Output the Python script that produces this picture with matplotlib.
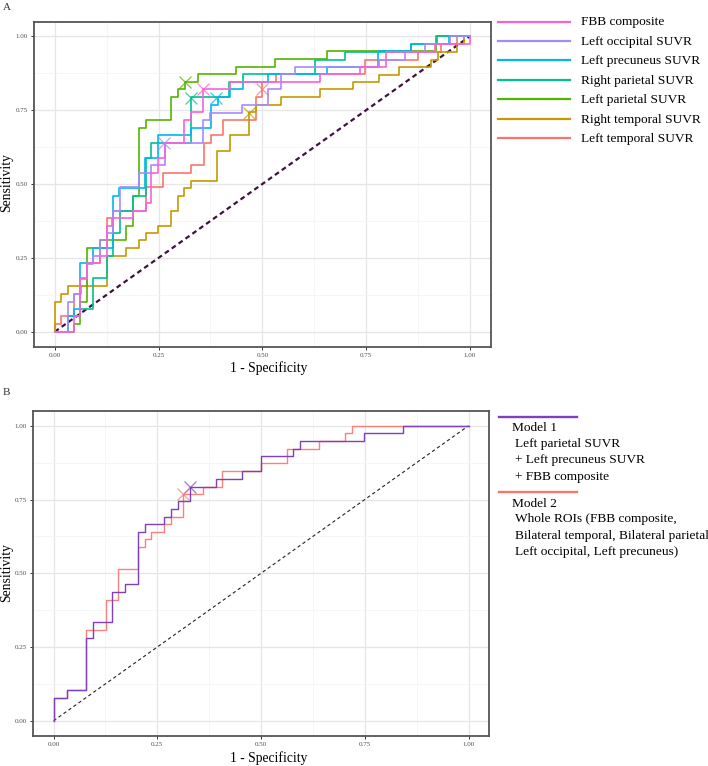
import matplotlib
matplotlib.use('Agg')
import matplotlib.pyplot as plt
from matplotlib.lines import Line2D

plt.rcParams['font.family'] = ['Liberation Serif', 'DejaVu Serif']

# ---------------- data ----------------
tick_values = [0.0, 0.25, 0.5, 0.75, 1.0]
tick_labels = ['0.00', '0.25', '0.50', '0.75', '1.00']
minor_values = [0.125, 0.375, 0.625, 0.875]

names_A = ['FBB composite', 'Left occipital SUVR', 'Left precuneus SUVR',
           'Right parietal SUVR', 'Left parietal SUVR', 'Right temporal SUVR',
           'Left temporal SUVR']
colors_A = ['#FB61D7', '#A58AFF', '#00B6EB', '#00C094', '#53B400', '#C49A00', '#F8766D']

fbb_fpr = [0, 0.046, 0.046, 0.061, 0.061, 0.0785, 0.0785, 0.109, 0.109, 0.125, 0.125, 0.139, 0.139, 0.1875,
           0.1875, 0.219, 0.219, 0.233, 0.233, 0.249, 0.249, 0.265, 0.265, 0.312, 0.312, 0.328, 0.328, 0.357,
           0.357, 0.421, 0.421, 0.638, 0.638, 0.734, 0.734, 0.797, 0.797, 0.917, 0.917, 1.0, 1.0]
fbb_tpr = [0, 0, 0.052, 0.052, 0.181, 0.181, 0.232, 0.232, 0.257, 0.257, 0.358, 0.358, 0.384, 0.384,
           0.41, 0.41, 0.435, 0.435, 0.538, 0.538, 0.587, 0.587, 0.64, 0.64, 0.718, 0.718, 0.744, 0.744,
           0.82, 0.82, 0.846, 0.846, 0.872, 0.872, 0.897, 0.897, 0.947, 0.947, 0.974, 0.974, 1.0]

locc_fpr = [0, 0.031, 0.031, 0.046, 0.046, 0.061, 0.061, 0.077, 0.077, 0.093, 0.093, 0.109, 0.109, 0.125,
            0.125, 0.141, 0.141, 0.157, 0.157, 0.2035, 0.2035, 0.233, 0.233, 0.265, 0.265, 0.357, 0.357,
            0.373, 0.373, 0.452, 0.452, 0.514, 0.514, 0.546, 0.546, 0.578, 0.578, 0.78, 0.78, 0.844, 0.844,
            0.891, 0.891, 0.953, 0.953, 1.0]
locc_tpr = [0, 0, 0.102, 0.102, 0.128, 0.128, 0.18, 0.18, 0.23, 0.23, 0.257, 0.257, 0.309, 0.309, 0.333,
            0.333, 0.41, 0.41, 0.489, 0.489, 0.538, 0.538, 0.564, 0.564, 0.64, 0.64, 0.717, 0.717, 0.742,
            0.742, 0.769, 0.769, 0.82, 0.82, 0.872, 0.872, 0.896, 0.896, 0.921, 0.921, 0.947, 0.947, 0.973,
            0.973, 1.0, 1.0]

lprec_fpr = [0, 0.031, 0.031, 0.046, 0.046, 0.061, 0.061, 0.093, 0.093, 0.141, 0.141, 0.155, 0.155, 0.217,
             0.217, 0.249, 0.249, 0.328, 0.328, 0.376, 0.376, 0.392, 0.392, 0.421, 0.421, 0.453, 0.453,
             0.514, 0.514, 0.656, 0.656, 0.778, 0.778, 0.857, 0.857, 0.95, 0.95, 1.0]
lprec_tpr = [0, 0, 0.052, 0.052, 0.077, 0.077, 0.232, 0.232, 0.283, 0.283, 0.461, 0.461, 0.487, 0.487,
             0.589, 0.589, 0.666, 0.666, 0.691, 0.691, 0.767, 0.767, 0.793, 0.793, 0.82, 0.82, 0.846,
             0.846, 0.872, 0.872, 0.897, 0.897, 0.949, 0.949, 0.974, 0.974, 1.0, 1.0]

rpar_fpr = [0, 0.031, 0.031, 0.061, 0.061, 0.093, 0.093, 0.125, 0.125, 0.141, 0.141, 0.157, 0.157, 0.1875,
            0.1875, 0.219, 0.219, 0.233, 0.233, 0.328, 0.328, 0.42, 0.42, 0.453, 0.453, 0.626, 0.626, 0.7,
            0.7, 0.857, 0.857, 0.92, 0.92, 1.0]
rpar_tpr = [0, 0, 0.052, 0.052, 0.077, 0.077, 0.181, 0.181, 0.257, 0.257, 0.333, 0.333, 0.41, 0.41, 0.461,
            0.461, 0.589, 0.589, 0.64, 0.64, 0.795, 0.795, 0.846, 0.846, 0.872, 0.872, 0.921, 0.921, 0.947,
            0.947, 0.973, 0.973, 1.0, 1.0]

lpar_fpr = [0, 0.046, 0.046, 0.061, 0.061, 0.077, 0.077, 0.109, 0.109, 0.171, 0.171, 0.1875, 0.1875,
            0.2035, 0.2035, 0.219, 0.219, 0.281, 0.281, 0.297, 0.297, 0.313, 0.313, 0.344, 0.344, 0.436,
            0.436, 0.531, 0.531, 0.656, 0.656, 0.918, 0.918, 1.0]
lpar_tpr = [0, 0, 0.027, 0.027, 0.102, 0.102, 0.283, 0.283, 0.309, 0.309, 0.358, 0.358, 0.461, 0.461,
            0.691, 0.691, 0.718, 0.718, 0.795, 0.795, 0.821, 0.821, 0.846, 0.846, 0.872, 0.872, 0.897,
            0.897, 0.923, 0.923, 0.949, 0.949, 1.0, 1.0]

rtem_fpr = [0, 0, 0.015, 0.015, 0.031, 0.031, 0.125, 0.125, 0.171, 0.171, 0.204, 0.204, 0.219, 0.219, 0.249,
            0.249, 0.281, 0.281, 0.297, 0.297, 0.312, 0.312, 0.328, 0.328, 0.391, 0.391, 0.421, 0.421, 0.468,
            0.468, 0.484, 0.484, 0.546, 0.546, 0.64, 0.64, 0.718, 0.718, 0.781, 0.781, 0.829, 0.829, 0.907,
            0.907, 0.923, 0.923, 0.968, 0.968, 0.985, 0.985, 1.0]
rtem_tpr = [0, 0.102, 0.102, 0.128, 0.128, 0.155, 0.155, 0.257, 0.257, 0.283, 0.283, 0.309, 0.309, 0.333,
            0.333, 0.358, 0.358, 0.41, 0.41, 0.461, 0.461, 0.485, 0.485, 0.511, 0.511, 0.611, 0.611, 0.666,
            0.666, 0.744, 0.744, 0.769, 0.769, 0.795, 0.795, 0.82, 0.82, 0.846, 0.846, 0.87, 0.87, 0.896,
            0.896, 0.921, 0.921, 0.947, 0.947, 0.974, 0.974, 1.0, 1.0]

ltem_fpr = [0, 0, 0.015, 0.015, 0.046, 0.046, 0.0625, 0.0625, 0.0785, 0.0785, 0.109, 0.109, 0.125, 0.125,
            0.141, 0.141, 0.219, 0.219, 0.261, 0.261, 0.328, 0.328, 0.36, 0.36, 0.376, 0.376, 0.405, 0.405,
            0.484, 0.484, 0.5, 0.5, 0.532, 0.532, 0.748, 0.748, 0.874, 0.874, 0.93, 0.93, 0.97, 0.97, 1.0]
ltem_tpr = [0, 0.027, 0.027, 0.052, 0.052, 0.128, 0.128, 0.155, 0.155, 0.232, 0.232, 0.283, 0.283, 0.384,
            0.384, 0.41, 0.41, 0.489, 0.489, 0.538, 0.538, 0.564, 0.564, 0.64, 0.64, 0.666, 0.666, 0.718,
            0.718, 0.795, 0.795, 0.846, 0.846, 0.872, 0.872, 0.921, 0.921, 0.947, 0.947, 0.974, 0.974,
            1.0, 1.0]

curves_A = [(fbb_fpr, fbb_tpr), (locc_fpr, locc_tpr), (lprec_fpr, lprec_tpr), (rpar_fpr, rpar_tpr),
            (lpar_fpr, lpar_tpr), (rtem_fpr, rtem_tpr), (ltem_fpr, ltem_tpr)]
# best-threshold points (x markers)
best_fpr_A = [0.357, 0.264, 0.389, 0.328, 0.313, 0.468, 0.5]
best_tpr_A = [0.82, 0.64, 0.79, 0.79, 0.846, 0.742, 0.82]

names_B = ['Model 1', 'Model 2']
desc_B = [['Left parietal SUVR', '+ Left precuneus SUVR', '+ FBB composite'],
          ['Whole ROIs (FBB composite,', 'Bilateral temporal, Bilateral parietal', 'Left occipital, Left precuneus)']]
colors_B = ['#7F3FBF', '#F8766D']

m1_fpr = [0, 0, 0.032, 0.032, 0.0785, 0.0785, 0.0945, 0.0945, 0.142, 0.142, 0.172, 0.172, 0.204, 0.204,
          0.22, 0.22, 0.267, 0.267, 0.283, 0.283, 0.299, 0.299, 0.329, 0.329, 0.391, 0.391, 0.453, 0.453,
          0.5, 0.5, 0.577, 0.577, 0.593, 0.593, 0.749, 0.749, 0.843, 0.843, 1.0]
m1_tpr = [0, 0.076, 0.076, 0.103, 0.103, 0.282, 0.282, 0.334, 0.334, 0.436, 0.436, 0.463, 0.463, 0.641,
          0.641, 0.666, 0.666, 0.692, 0.692, 0.718, 0.718, 0.745, 0.745, 0.794, 0.794, 0.82, 0.82, 0.847,
          0.847, 0.897, 0.897, 0.922, 0.922, 0.948, 0.948, 0.975, 0.975, 1.0, 1.0]

m2_fpr = [0, 0, 0.032, 0.032, 0.0785, 0.0785, 0.126, 0.126, 0.156, 0.156, 0.204, 0.204, 0.22, 0.22, 0.236,
          0.236, 0.267, 0.267, 0.283, 0.283, 0.3125, 0.3125, 0.36, 0.36, 0.407, 0.407, 0.5, 0.5, 0.562,
          0.562, 0.639, 0.639, 0.703, 0.703, 0.719, 0.719, 1.0]
m2_tpr = [0, 0.076, 0.076, 0.103, 0.103, 0.308, 0.308, 0.41, 0.41, 0.514, 0.514, 0.59, 0.59, 0.617, 0.617,
          0.641, 0.641, 0.666, 0.666, 0.692, 0.692, 0.769, 0.769, 0.794, 0.794, 0.847, 0.847, 0.873, 0.873,
          0.922, 0.922, 0.948, 0.948, 0.975, 0.975, 1.0, 1.0]

curves_B = [(m1_fpr, m1_tpr), (m2_fpr, m2_tpr)]
best_fpr_B = [0.329, 0.3125]
best_tpr_B = [0.794, 0.769]

# ---------------- figure ----------------
W, H = 708, 766
fig = plt.figure(figsize=(W / 100, H / 100), dpi=100)


def fx(px):
    return px / W


def fy(py):
    return 1 - py / H


axA = fig.add_axes([fx(34), fy(346.5), (490.7 - 34) / W, (346.5 - 21.5) / H])
axB = fig.add_axes([fx(32.8), fy(735.5), (489.3 - 32.8) / W, (735.5 - 411) / H])


def style(ax):
    ax.set_xlim(-0.05, 1.05)
    ax.set_ylim(-0.05, 1.05)
    ax.set_xticks(tick_values)
    ax.set_yticks(tick_values)
    ax.set_xticklabels(tick_labels)
    ax.set_yticklabels(tick_labels)
    ax.set_xticks(minor_values, minor=True)
    ax.set_yticks(minor_values, minor=True)
    ax.grid(which='major', color='#E6E6E6', lw=0.9)
    ax.grid(which='minor', color='#F3F3F3', lw=0.5)
    ax.set_axisbelow(True)
    for s in ax.spines.values():
        s.set_color('#555555')
        s.set_linewidth(1.3)
    ax.tick_params(which='major', length=2.5, width=0.7, color='#333333',
                   labelsize=5, labelcolor='#4D4D4D', pad=2)
    ax.tick_params(which='minor', length=0)


style(axA)
style(axB)

# Panel A
axA.plot([0, 1], [0, 1], color='#3E1240', lw=1.6, dashes=(2.2, 1.6), zorder=1)
for i in range(len(names_A) - 1, -1, -1):
    fpr, tpr = curves_A[i]
    axA.plot(fpr, tpr, color=colors_A[i], lw=1.2, zorder=2)
for i in range(len(names_A)):
    axA.plot(best_fpr_A[i], best_tpr_A[i], marker='x', ms=8, mew=0.9,
             color=colors_A[i], alpha=0.75, zorder=3, linestyle='none')

# Panel B
axB.plot([0, 1], [0, 1], color='#222222', lw=0.8, dashes=(3, 2.5), zorder=1)
axB.plot(m2_fpr, m2_tpr, color=colors_B[1], lw=1.0, alpha=0.9, zorder=2)
axB.plot(m1_fpr, m1_tpr, color=colors_B[0], lw=1.0, zorder=3)
for i in range(2):
    axB.plot(best_fpr_B[i], best_tpr_B[i], marker='x', ms=8, mew=0.9,
             color=colors_B[i], alpha=0.7, zorder=4, linestyle='none')

# axis titles and panel tags
title_fs = 9.8
fig.text(fx(269), fy(368), '1 - Specificity', ha='center', va='center', fontsize=title_fs)
fig.text(fx(7), fy(183), 'Sensitivity', ha='center', va='center', rotation=90, fontsize=title_fs)
fig.text(fx(268.5), fy(758), '1 - Specificity', ha='center', va='center', fontsize=title_fs)
fig.text(fx(7), fy(573), 'Sensitivity', ha='center', va='center', rotation=90, fontsize=title_fs)
fig.text(fx(3), fy(8), 'A', ha='left', va='center', fontsize=8, color='#333333')
fig.text(fx(3), fy(393), 'B', ha='left', va='center', fontsize=8, color='#333333')

# legend A
leg_fs = 9.6
for i, name in enumerate(names_A):
    y = 21.5 + i * 19.45
    fig.add_artist(Line2D([fx(498), fx(570)], [fy(y), fy(y)], color=colors_A[i], lw=1.6))
    fig.text(fx(581), fy(y + 1), name, ha='left', va='center', fontsize=leg_fs)

# legend B
for i, name in enumerate(names_B):
    y0 = 416.7 + i * 75.6
    fig.add_artist(Line2D([fx(498.5), fx(577)], [fy(y0), fy(y0)], color=colors_B[i], lw=1.7))
    fig.text(fx(511.5), fy(y0 + 11.5), name, ha='left', va='center', fontsize=leg_fs)
    for j, line in enumerate(desc_B[i]):
        fig.text(fx(515), fy(y0 + 27 + j * 16.5), line, ha='left', va='center', fontsize=leg_fs)

fig.savefig('out.png', dpi=100)
